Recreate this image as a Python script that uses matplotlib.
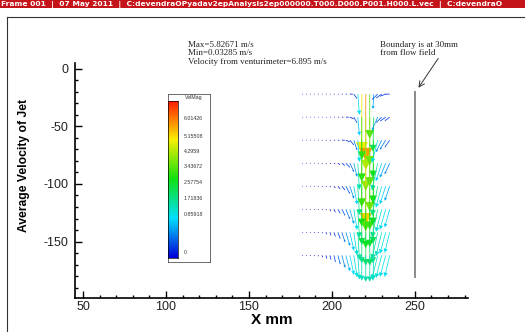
import numpy as np
import matplotlib
matplotlib.use('Agg')
from matplotlib import pyplot as plt
from matplotlib.colors import LinearSegmentedColormap, Normalize
from matplotlib.lines import Line2D
from matplotlib.patches import Rectangle
from matplotlib.ticker import MultipleLocator

plt.rcParams['font.family'] = 'Liberation Sans'
plt.rcParams['axes.unicode_minus'] = False

W, H = 525, 332

# vector grid, mm
x_cols = [182.0, 184.4, 186.8, 189.2, 191.6, 194.0, 196.4, 198.8, 201.2, 203.6, 206.0, 208.4,
          210.8, 213.2, 215.6, 218.0, 220.4, 222.8, 225.2, 227.6, 230.0, 232.4, 234.8]
y_rows = [-22, -42, -62, -82, -102, -122, -142, -162]

# velocity magnitude, m/s (one list per row)
vel_mag = [
    [0.06, 0.06, 0.06, 0.06, 0.06, 0.06, 0.06, 0.06, 0.07, 0.07, 0.08, 0.09, 0.2, 0.45, 1.8, 5.2, 5.83, 3.9, 1.3, 0.6, 0.5, 0.4, 0.3],
    [0.06, 0.06, 0.06, 0.06, 0.06, 0.06, 0.07, 0.07, 0.08, 0.09, 0.11, 0.2, 0.3, 0.55, 1.6, 3.7, 4.6, 4.2, 3.0, 1.2, 0.6, 0.5, 0.45],
    [0.06, 0.06, 0.06, 0.06, 0.06, 0.07, 0.07, 0.08, 0.09, 0.11, 0.2, 0.3, 0.5, 0.9, 1.9, 3.6, 4.4, 4.0, 3.3, 2.0, 1.1, 0.9, 0.7],
    [0.06, 0.06, 0.06, 0.06, 0.07, 0.07, 0.08, 0.09, 0.11, 0.2, 0.3, 0.45, 0.8, 1.2, 2.3, 3.8, 5.4, 4.2, 3.5, 2.4, 1.6, 1.3, 1.0],
    [0.06, 0.06, 0.06, 0.07, 0.07, 0.08, 0.09, 0.11, 0.2, 0.3, 0.4, 0.7, 1.1, 1.6, 2.5, 3.5, 3.9, 3.8, 3.4, 2.6, 1.9, 1.6, 1.3],
    [0.06, 0.06, 0.07, 0.07, 0.08, 0.09, 0.11, 0.2, 0.3, 0.4, 0.6, 0.9, 1.3, 1.8, 2.5, 3.1, 3.4, 3.3, 3.0, 2.5, 2.0, 1.8, 1.6],
    [0.06, 0.07, 0.07, 0.08, 0.09, 0.11, 0.2, 0.3, 0.4, 0.6, 0.9, 1.2, 1.6, 2.0, 2.4, 2.7, 2.9, 2.9, 2.7, 2.4, 2.1, 1.9, 1.8],
    [0.07, 0.07, 0.08, 0.09, 0.11, 0.2, 0.3, 0.4, 0.6, 0.8, 1.1, 1.4, 1.7, 1.9, 2.1, 2.2, 2.3, 2.3, 2.2, 2.1, 2.0, 1.9, 1.9],
]
# sideways (entrainment) component per column, m/s
u_side = [0.06, 0.06, 0.06, 0.06, 0.06, 0.06, 0.06, 0.07, 0.1, 0.15, 0.2, 0.25, 0.25, 0.2,
          0.1, 0.0, 0.0, 0.0, -0.05, -0.35, -0.35, -0.35, -0.3]

vmax = 6.87344
legend_labels = ['6.01426', '5.15508', '4.2959', '3.43672', '2.57754', '1.71836', '0.85918', '0']
legend_label_py = [119, 136, 152, 167, 183, 199, 215, 253]

stat_lines = ['Max=5.82671 m/s', 'Min=0.03285 m/s', 'Velocity from venturimeter=6.895 m/s']
boundary_lines = ['Boundary is at 30mm', 'from flow field']
boundary_x = 250
boundary_y = (-181, -20)

title_bar = ('Frame 001  |  07 May 2011  |  C:devendraOPyadav2epAnalysis2ep000000.T000.D000.P001.H000.L.vec'
             '  |  C:devendraO')

cmap = LinearSegmentedColormap.from_list('rainbow5', [
    (0.0, '#0000d8'), (0.25, '#00e0ff'), (0.5, '#10e010'), (0.75, '#f8f000'), (1.0, '#ff1800')])
norm = Normalize(0, vmax)


def fx(px):
    return px / W


def fy(py):
    return 1 - py / H


fig = plt.figure(figsize=(W / 100, H / 100), dpi=100)

# red title bar and frame
fig.add_artist(Rectangle((0, fy(8)), 1, 8 / H, transform=fig.transFigure, color='#c4141a', lw=0))
fig.text(fx(1), fy(4.2), title_bar, color='white', fontsize=5.4, fontweight='bold',
         family='DejaVu Sans', ha='left', va='center')
fig.add_artist(Line2D([fx(7), 1], [fy(17), fy(17)], transform=fig.transFigure, color='#333333', lw=0.8))
fig.add_artist(Line2D([fx(7), fx(7)], [fy(17), 0], transform=fig.transFigure, color='#333333', lw=0.8))

ax = fig.add_axes([fx(75), fy(298), (468 - 75) / W, (298 - 63) / H])
ax.set_xlim(45.2, 282)
ax.set_ylim(-199, 5)
for s in ['top', 'right']:
    ax.spines[s].set_visible(False)
for s in ['left', 'bottom']:
    ax.spines[s].set_linewidth(1.2)
ax.xaxis.set_major_locator(MultipleLocator(50))
ax.xaxis.set_minor_locator(MultipleLocator(10))
ax.yaxis.set_major_locator(MultipleLocator(50))
ax.yaxis.set_minor_locator(MultipleLocator(10))
ax.tick_params(which='both', direction='in', labelsize=9, labelcolor='#222222', width=1.0)
ax.tick_params(which='major', length=5)
ax.tick_params(which='minor', length=2.5)
ax.tick_params(axis='x', pad=2.5)
ax.tick_params(axis='y', pad=5)

ax.set_xlabel('X mm', fontsize=11, fontweight='bold', labelpad=0)
fig.text(fx(24), fy(166), 'Average Velocity of Jet', rotation=90, ha='center', va='center',
         fontsize=8.7, fontweight='bold')

# vectors
for r, yv in enumerate(y_rows):
    for c, xv in enumerate(x_cols):
        m = vel_mag[r][c]
        u = u_side[c]
        if abs(u) > m:
            u = np.sign(u) * m
        v = -np.sqrt(max(m * m - u * u, 0))
        L = m * 10 * 1.15
        head = max(0.2 * L, 0.7)
        ax.quiver(xv, yv, u, v, color=cmap(norm(m)), angles='xy', scale_units='xy', scale=0.1,
                  units='dots', width=0.75, headwidth=head / 0.75, headlength=head / 0.75,
                  headaxislength=head / 0.75, minlength=0.5, zorder=3)

# boundary line and note
ax.plot([boundary_x, boundary_x], boundary_y, color='#8a8a8a', lw=1.4)
ax.annotate('', xy=(251.2, -18.5), xytext=(265, 11), annotation_clip=False,
            arrowprops=dict(arrowstyle='->', color='#333333', lw=0.7))
for i, t in enumerate(boundary_lines):
    fig.text(fx(380), fy(44.7 + 8.6 * i), t, family='Liberation Serif', fontsize=6.5,
             ha='left', va='center', color='#222222')
for i, t in enumerate(stat_lines):
    fig.text(fx(188), fy(44.7 + 8.6 * i), t, family='Liberation Serif', fontsize=6.5,
             ha='left', va='center', color='#222222')

# contour legend box
box = fig.add_axes([fx(168), fy(262), 42 / W, (262 - 94) / H])
box.set_xticks([])
box.set_yticks([])
for s in box.spines.values():
    s.set_linewidth(0.6)
    s.set_color('#555555')
strip = fig.add_axes([fx(168), fy(258.3), 10 / W, (258.3 - 100.7) / H])
strip.imshow(np.linspace(1, 0, 200).reshape(-1, 1), cmap=cmap, aspect='auto',
             extent=[0, 1, 0, 1])
strip.set_xticks([])
strip.set_yticks([])
for s in strip.spines.values():
    s.set_linewidth(0.5)
fig.text(fx(185), fy(97), 'VelMag', fontsize=3.8, ha='left', va='center', color='#333333')
for t, py in zip(legend_labels, legend_label_py):
    fig.text(fx(183.5), fy(py), t, fontsize=3.8, ha='left', va='center', color='#333333')

fig.savefig('out.png', dpi=100)
